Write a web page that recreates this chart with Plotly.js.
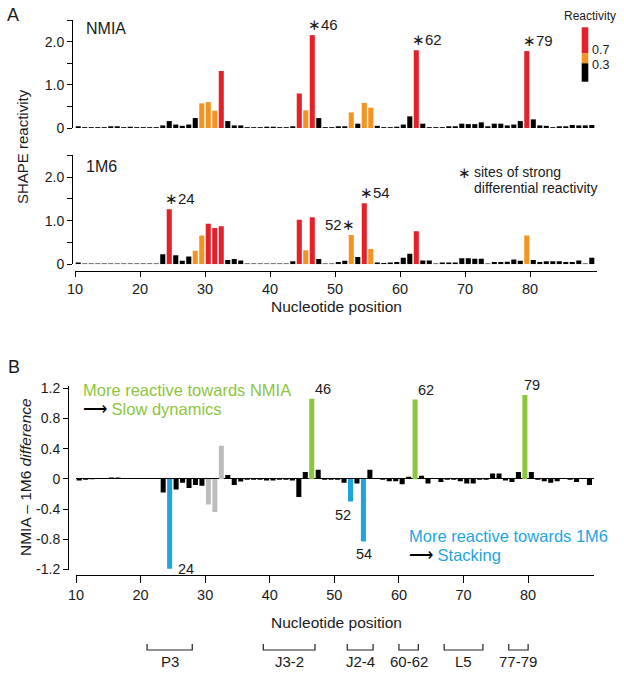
<!DOCTYPE html>
<html><head><meta charset="utf-8">
<script src="https://cdn.plot.ly/plotly-3.0.1.min.js"></script>
<style>html,body{margin:0;padding:0;background:#fff}#chart{width:624px;height:673px}</style>
</head><body><div id="chart"></div>
<script>
// ---------- data ----------
const nucleotides = [10,11,12,13,14,15,16,17,18,19,20,21,22,23,24,25,26,27,28,29,30,31,32,33,34,35,36,37,38,39,40,41,42,43,44,45,46,47,48,49,50,51,52,53,54,55,56,57,58,59,60,61,62,63,64,65,66,67,68,69,70,71,72,73,74,75,76,77,78,79,80,81,82,83,84,85,86,87,88,89];
const nmia = [0.04,0.02,0.02,0.02,0.02,0.04,0.04,0.02,0.03,0.02,0.02,0.02,0.02,0.06,0.16,0.08,0.05,0.08,0.23,0.57,0.60,0.40,1.32,0.16,0.06,0.06,0.02,0.02,0.02,0.03,0.03,0.02,0.02,0.04,0.80,0.41,2.15,0.23,0.02,0.02,0.04,0.04,0.36,0.10,0.58,0.47,0.05,0.02,0.02,0.03,0.08,0.27,1.80,0.10,0.02,0.02,0.02,0.04,0.04,0.10,0.09,0.09,0.13,0.04,0.10,0.10,0.06,0.08,0.16,1.78,0.20,0.06,0.05,0.02,0.04,0.04,0.07,0.06,0.06,0.07];
const m6 = [0.04,0.02,0.02,0.02,0.02,0.02,0.02,0.02,0.02,0.02,0.02,0.02,0.02,0.23,1.26,0.21,0.08,0.18,0.31,0.66,0.93,0.83,0.87,0.10,0.12,0.09,0.02,0.02,0.02,0.02,0.02,0.02,0.02,0.07,1.02,0.32,1.08,0.12,0.02,0.02,0.05,0.08,0.67,0.17,1.40,0.35,0.04,0.03,0.04,0.05,0.15,0.24,0.76,0.09,0.09,0.02,0.04,0.04,0.04,0.14,0.14,0.13,0.13,0.02,0.05,0.05,0.06,0.11,0.08,0.66,0.10,0.05,0.07,0.07,0.07,0.05,0.05,0.09,0.02,0.15];
const diff = [-0.02,-0.01,-0.005,0,0.01,0.02,0.02,0,0.01,0,0,0,0,-0.18,-1.19,-0.14,-0.05,-0.12,-0.08,-0.09,-0.34,-0.44,0.44,0.05,-0.08,-0.035,-0.01,-0.01,-0.01,-0.02,-0.02,-0.01,-0.01,-0.02,-0.24,0.09,1.06,0.12,-0.01,-0.01,-0.01,-0.05,-0.30,-0.06,-0.83,0.12,0,-0.01,-0.03,-0.03,-0.07,0.03,1.05,0.04,-0.06,0,-0.04,-0.01,-0.01,-0.03,-0.06,-0.06,-0.01,-0.01,0.07,0.07,-0.02,-0.04,0.09,1.11,0.09,-0.01,-0.03,-0.05,-0.03,0,-0.01,-0.04,0.01,-0.08];
const thresholds = [0.3, 0.7];
const thresholdLabels = ['0.3', '0.7'];
const xTickLabels = [10,20,30,40,50,60,70,80];
const shapeTickVals = [0,0.5,1,1.5,2,2.5];
const shapeTickText = ['0','','1.0','','2.0',''];
const diffTickVals = [-1.2,-0.8,-0.4,0,0.4,0.8,1.2];
const diffTickText = ['-1.2','-0.8','-0.4','0','0.4','0.8','1.2'];
const nmiaSites = [46,62,79];      // more reactive towards NMIA
const m6Sites = [24,52,54];        // more reactive towards 1M6
const greySites = [30,31,32];
const regionLabels = ['P3','J3-2','J2-4','60-62','L5','77-79'];
const regionStart = [21,39,52,60,67,77];
const regionEnd = [27,46,55,62,72,79];

// ---------- styles ----------
const FONT = 'Liberation Sans, Arial, Helvetica, sans-serif';
const TXT = '#1a1a1a';
const RED = '#e4202a', ORANGE = '#f39322', BLACK = '#000000';
const GREEN = '#8cc63e', BLUE = '#1ea5e0', GREY = '#bdbdbd';
const W = 624, H = 673;
const px = p => p / W;
const py = p => 1 - p / H;

const reactColor = v => v >= thresholds[1] ? RED : (v >= thresholds[0] ? ORANGE : BLACK);
const diffColor = n => nmiaSites.includes(n) ? GREEN : m6Sites.includes(n) ? BLUE : greySites.includes(n) ? GREY : BLACK;
const idx = n => nucleotides.indexOf(n);

const xTickVals = xTickLabels.map(v => v - 0.5);
const xTickText = xTickLabels.map(String);

const barCommon = {type:'bar', hoverinfo:'skip', showlegend:false};
const traces = [
  Object.assign({}, barCommon, {x:nucleotides, y:nmia, xaxis:'x2', yaxis:'y', marker:{color:nmia.map(reactColor), line:{width:0}}}),
  Object.assign({}, barCommon, {x:nucleotides, y:m6, xaxis:'x', yaxis:'y2', marker:{color:m6.map(reactColor), line:{width:0}}}),
  Object.assign({}, barCommon, {x:nucleotides, y:diff, xaxis:'x3', yaxis:'y3', marker:{color:nucleotides.map(diffColor), line:{width:0}}})
];

const axLine = {showline:true, linecolor:'#000', linewidth:1, ticks:'outside', tickcolor:'#000', tickwidth:1,
  showgrid:false, zeroline:false, fixedrange:true};

const ann = [];
const A = (o) => ann.push(Object.assign({showarrow:false, xanchor:'center', yanchor:'middle',
  font:{family:FONT, size:14, color:TXT}}, o));

// panel letters
A({xref:'paper', yref:'paper', x:px(13), y:py(15), text:'A', font:{family:FONT, size:18, color:TXT}});
A({xref:'paper', yref:'paper', x:px(14), y:py(367), text:'B', font:{family:FONT, size:18, color:TXT}});
// panel names
A({xref:'paper', yref:'paper', x:px(84), y:py(29), xanchor:'left', text:'NMIA', font:{family:FONT, size:16, color:TXT}});
A({xref:'paper', yref:'paper', x:px(84), y:py(166), xanchor:'left', text:'1M6', font:{family:FONT, size:16, color:TXT}});
// y titles
A({xref:'paper', yref:'paper', x:px(22), y:py(147), textangle:-90, text:'SHAPE reactivity', font:{family:FONT, size:15, color:TXT}});
A({xref:'paper', yref:'paper', x:px(25), y:py(477), textangle:-90, text:'NMIA \u2013 1M6 <i>difference</i>', font:{family:FONT, size:15.5, color:TXT}});
// x titles
A({xref:'paper', yref:'paper', x:px(336), y:py(307), text:'Nucleotide position', font:{family:FONT, size:15.5, color:TXT}});
A({xref:'paper', yref:'paper', x:px(336), y:py(622), text:'Nucleotide position', font:{family:FONT, size:15.5, color:TXT}});

// stars NMIA
nmiaSites.forEach(s => A({xref:'x2', yref:'y', x:s, y:nmia[idx(s)], xanchor:'left', yanchor:'bottom', xshift:-6, yshift:0, text:'\u2217' + s, font:{family:FONT, size:15, color:TXT}}));
// stars 1M6
m6Sites.forEach(s => {
  const right = s === 52;
  A({xref:'x', yref:'y2', x:s, y:m6[idx(s)], xanchor: right ? 'right' : 'left', yanchor:'bottom', xshift: right ? 6 : -6, yshift:0,
     text: right ? (s + '\u2217') : ('\u2217' + s), font:{family:FONT, size:15, color:TXT}});
});
// star legend
A({xref:'paper', yref:'paper', x:px(464), y:py(172), text:'\u2217', font:{family:FONT, size:15, color:TXT}});
A({xref:'paper', yref:'paper', x:px(472), y:py(172), xanchor:'left', text:'sites of strong', font:{family:FONT, size:14, color:TXT}});
A({xref:'paper', yref:'paper', x:px(472), y:py(187.5), xanchor:'left', text:'differential reactivity', font:{family:FONT, size:14, color:TXT}});

// reactivity key
A({xref:'paper', yref:'paper', x:px(590), y:py(16), text:'Reactivity', font:{family:FONT, size:12, color:TXT}});
A({xref:'paper', yref:'paper', x:px(589.5), y:py(50), xanchor:'left', text:thresholdLabels[1], font:{family:FONT, size:12.5, color:TXT}});
A({xref:'paper', yref:'paper', x:px(589.5), y:py(65.5), xanchor:'left', text:thresholdLabels[0], font:{family:FONT, size:12.5, color:TXT}});

// difference labels
const labShift = {46:1, 62:1, 79:-3};
nmiaSites.forEach(s => A({xref:'x3', yref:'y3', x:s, y:diff[idx(s)], xanchor:'left', yanchor:'bottom', xshift:labShift[s], yshift:0, text:String(s), font:{family:FONT, size:14.5, color:TXT}}));
A({xref:'x3', yref:'y3', x:24, y:diff[idx(24)], xanchor:'left', yanchor:'middle', xshift:6, text:'24', font:{family:FONT, size:14.5, color:TXT}});
A({xref:'x3', yref:'y3', x:52, y:diff[idx(52)], xanchor:'right', yanchor:'top', xshift:2, yshift:-3, text:'52', font:{family:FONT, size:14.5, color:TXT}});
A({xref:'x3', yref:'y3', x:54, y:diff[idx(54)], xanchor:'center', yanchor:'top', xshift:1, yshift:-2, text:'54', font:{family:FONT, size:14.5, color:TXT}});

// coloured notes
A({xref:'paper', yref:'paper', x:px(81), y:py(390), xanchor:'left', text:'More reactive towards NMIA', font:{family:FONT, size:16.5, color:GREEN}});
A({xref:'paper', yref:'paper', x:px(81), y:py(409), xanchor:'left', text:'<span style="color:#000">\u27F6</span> Slow dynamics', font:{family:FONT, size:16.5, color:GREEN}});
A({xref:'paper', yref:'paper', x:px(407), y:py(536), xanchor:'left', text:'More reactive towards 1M6', font:{family:FONT, size:16.5, color:BLUE}});
A({xref:'paper', yref:'paper', x:px(407), y:py(554.5), xanchor:'left', text:'<span style="color:#000">\u27F6</span> Stacking', font:{family:FONT, size:16.5, color:BLUE}});

// region brackets
const shapes = [];
regionLabels.forEach((lab, i) => {
  const x0 = regionStart[i] - 0.5, x1 = regionEnd[i] + 0.5;
  shapes.push({type:'path', xref:'x3', yref:'paper',
    path:`M ${x0},${py(644)} L ${x0},${py(650)} L ${x1},${py(650)} L ${x1},${py(644)}`,
    line:{color:'#222', width:1.2}});
  A({xref:'x3', yref:'paper', x:(regionStart[i] + regionEnd[i]) / 2, y:py(661), text:lab, font:{family:FONT, size:15, color:TXT}});
});
// reactivity key colour blocks
[[27.3,53.3,RED],[53.3,63.3,ORANGE],[63.3,81.7,BLACK]].forEach(b => shapes.push({type:'rect', xref:'paper', yref:'paper',
  x0:px(581.7), x1:px(588.3), y0:py(b[1]), y1:py(b[0]), fillcolor:b[2], line:{width:0}}));

const layout = {
  width:W, height:H, margin:{l:0, r:0, t:0, b:0, pad:0},
  paper_bgcolor:'#fff', plot_bgcolor:'rgba(0,0,0,0)',
  font:{family:FONT, size:14, color:TXT},
  bargap:0.22, showlegend:false,
  xaxis2: {domain:[px(75), px(597)], range:[9.5, 89.8], anchor:'y', visible:false, fixedrange:true},
  yaxis: Object.assign({}, axLine, {domain:[py(128), py(20)], range:[0, 2.5], anchor:'free', position:px(72),
    tickvals:shapeTickVals, ticktext:shapeTickText, ticklen:5, tickfont:{family:FONT, size:14, color:TXT}}),
  xaxis: Object.assign({}, axLine, {domain:[px(75), px(597)], range:[9.5, 89.8], anchor:'free', position:py(271),
    tickvals:xTickVals, ticktext:xTickText, ticklen:5, tickfont:{family:FONT, size:14.5, color:TXT}}),
  yaxis2: Object.assign({}, axLine, {domain:[py(264.3), py(155.3)], range:[0, 2.5], anchor:'free', position:px(72),
    tickvals:shapeTickVals, ticktext:shapeTickText, ticklen:5, tickfont:{family:FONT, size:14, color:TXT}}),
  xaxis3: Object.assign({}, axLine, {domain:[px(76), px(594)], range:[9.5, 89.7], anchor:'free', position:py(575),
    tickvals:xTickVals, ticktext:xTickText, ticklen:7, tickfont:{family:FONT, size:14.5, color:TXT}}),
  yaxis3: Object.assign({}, axLine, {domain:[py(569.5), py(386.4)], range:[-1.2, 1.225], anchor:'free', position:px(68),
    tickvals:diffTickVals, ticktext:diffTickText, ticklen:5, tickfont:{family:FONT, size:14, color:TXT},
    zeroline:true, zerolinecolor:'#000', zerolinewidth:1}),
  annotations: ann,
  shapes: shapes
};

Plotly.newPlot('chart', traces, layout, {displayModeBar:false, staticPlot:true});
</script>
</body></html>
